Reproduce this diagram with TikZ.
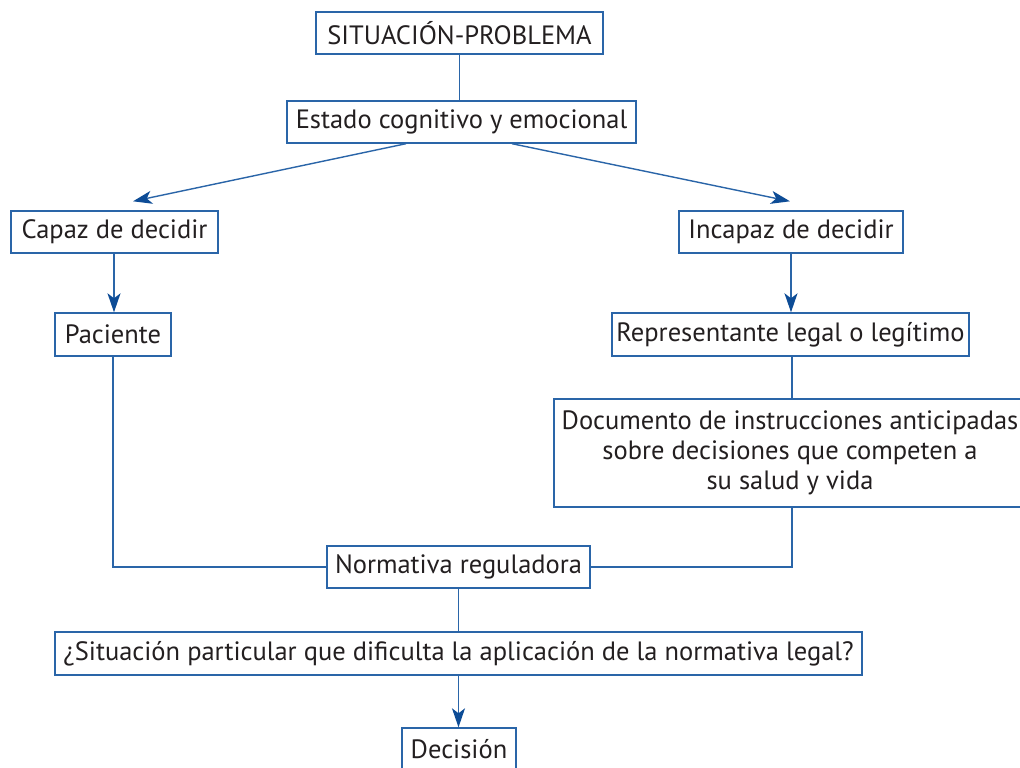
\documentclass[tikz,border=0pt]{standalone}
\usepackage{fontspec}
\setmainfont{PT Sans}
\usetikzlibrary{arrows.meta,calc}
\definecolor{boxblue}{HTML}{2A65A8}
\definecolor{arrblue}{HTML}{0D4C96}
\definecolor{txt}{HTML}{231F20}
\tikzset{
  box/.style={draw=boxblue, line width=1.4pt, rectangle, inner sep=0pt, fill=white,
    text=txt, font=\fontsize{26.5}{30}\selectfont, align=center},
  conn/.style={draw=boxblue, line width=1.4pt},
  arr/.style={conn, -{Stealth[length=19pt,width=13pt,inset=5pt,color=arrblue]}},
}
\begin{document}
\begin{tikzpicture}[x=1pt,y=-1pt]
\clip (0,0) rectangle (1020,768);
\fill[white] (0,0) rectangle (1020,768);
\node[box, minimum width=287pt, minimum height=42pt] (sit) at (459.5,33) {SITUACIÓN-PROBLEMA};
\node[box, minimum width=349pt, minimum height=42pt] (est) at (461.5,122) {Estado cognitivo y emocional};
\node[box, minimum width=207pt, minimum height=42pt] (cap) at (114.5,232) {Capaz de decidir};
\node[box, minimum width=224pt, minimum height=42pt] (inc) at (791,232) {Incapaz de decidir};
\node[box, minimum width=116pt, minimum height=43pt] (pac) at (113,334.5) {Paciente};
\node[box, minimum width=357pt, minimum height=43pt] (rep) at (790.5,334.5) {Representante legal o legítimo};
\node[box, minimum width=472pt, minimum height=108pt] (doc) at (790,453) {Documento de instrucciones anticipadas\\sobre decisiones que competen a\\su salud y vida};
\node[box, minimum width=263pt, minimum height=42pt] (nor) at (458.5,567) {Normativa reguladora};
\node[box, minimum width=807pt, minimum height=43pt] (q) at (458.5,653.5) {¿Situación particular que dificulta la aplicación de la normativa legal?};
\node[box, minimum width=114pt, minimum height=42pt] (dec) at (459,749) {Decisión};

\draw[conn] (sit.south) -- (sit.south |- est.north);
\draw[arr] ([xshift=-55.5pt]est.south) -- ([xshift=18.5pt,yshift=9pt]cap.north);
\draw[arr] ([xshift=50.5pt]est.south) -- ([xshift=-1pt,yshift=9pt]inc.north);
\draw[arr] ([xshift=-0.5pt]cap.south) -- ([xshift=-0.5pt]cap.south |- pac.north);
\draw[arr] (inc.south) -- (inc.south |- rep.north);
\draw[conn] ([xshift=1.5pt]rep.south) -- ([xshift=1.5pt]rep.south |- doc.north);
\draw[conn] (pac.south) |- (nor.west);
\draw[conn] ([xshift=2pt]doc.south) |- (nor.east);
\draw[conn] (nor.south) -- (nor.south |- q.north);
\draw[arr] (q.south) -- (q.south |- dec.north);
\end{tikzpicture}
\end{document}
